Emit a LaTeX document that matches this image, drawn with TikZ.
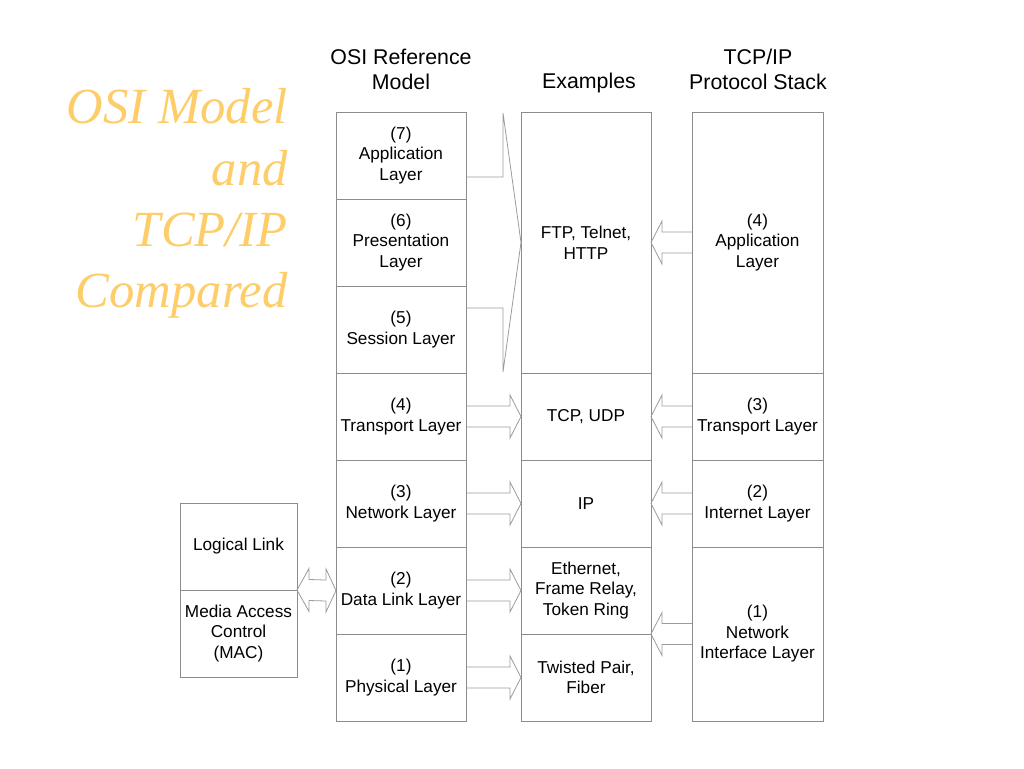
\documentclass[tikz,border=0pt]{standalone}
\usepackage{fontspec}
\setmainfont{Liberation Sans}
\newfontfamily\titlefont{Liberation Serif}
\usetikzlibrary{calc}
\definecolor{boxline}{RGB}{140,140,140}
\definecolor{arrline}{RGB}{155,155,155}
\definecolor{titlegold}{RGB}{253,205,105}
\begin{document}
\begin{tikzpicture}[x=0.75pt,y=-0.75pt,
  lay/.style={draw=boxline,line width=0.6pt,fill=white,inner sep=0pt,outer sep=0pt,
    align=center,font=\fontsize{12.9pt}{15.4pt}\selectfont},
  osicol/.style={lay,minimum width=97.5pt,minimum height=65.25pt},
  excol/.style={lay,minimum width=97.5pt},
  tcpcol/.style={lay,minimum width=98.25pt},
  leftcol/.style={lay,minimum width=87.75pt,minimum height=65.25pt},
  hdr/.style={align=center,inner sep=0pt,font=\fontsize{16pt}{19pt}\selectfont},
  ttl/.style={anchor=base east,inner sep=0pt,text=titlegold,
    font=\titlefont\itshape\fontsize{38pt}{46pt}\selectfont},
  blk/.style={to path={
    ($(\tikztostart)+(0,-10.5)$) -- ($(\tikztotarget)+(#1,-10.5)$)
    -- ($(\tikztotarget)+(#1,-21.5)$) -- (\tikztotarget)
    -- ($(\tikztotarget)+(#1,21.5)$) -- ($(\tikztotarget)+(#1,10.5)$)
    -- ($(\tikztostart)+(0,10.5)$)}},
  brk/.style={draw=arrline,line width=0.6pt}
]
\useasboundingbox (0,0) rectangle (1024,768);

% title
\node[ttl] (t1) at (288,123) {OSI Model};
\node[ttl] (t2) at (288,185) {and};
\node[ttl] (t3) at (288,246) {TCP/IP};
\node[ttl] (t4) at (288,307) {Compared};

% headers
\node[hdr] (h1) at (401,69.5) {OSI Reference\\Model};
\node[hdr] (h2) at (589,83) {Examples};
\node[hdr] (h3) at (758,69.5) {TCP/IP\\Protocol Stack};

% OSI column
\node[osicol] (osi7) at (401,155.5) {(7)\\Application\\Layer};
\node[osicol] (osi6) at (401,242.5) {(6)\\Presentation\\Layer};
\node[osicol] (osi5) at (401,329.5) {(5)\\Session Layer};
\node[osicol] (osi4) at (401,416.5) {(4)\\Transport Layer};
\node[osicol] (osi3) at (401,503.5) {(3)\\Network Layer};
\node[osicol] (osi2) at (401,590.5) {(2)\\Data Link Layer};
\node[osicol] (osi1) at (401,677.5) {(1)\\Physical Layer};

% Examples column
\node[excol,minimum height=195.75pt] (ex7) at (586,242.5) {FTP, Telnet,\\HTTP};
\node[excol,minimum height=65.25pt] (ex4) at (586,416.5) {TCP, UDP};
\node[excol,minimum height=65.25pt] (ex3) at (586,503.5) {IP};
\node[excol,minimum height=65.25pt] (ex2) at (586,590.5) {Ethernet,\\Frame Relay,\\Token Ring};
\node[excol,minimum height=65.25pt] (ex1) at (586,677.5) {Twisted Pair,\\Fiber};

% TCP/IP column
\node[tcpcol,minimum height=195.75pt] (tcp4) at (757.5,242.5) {(4)\\Application\\Layer};
\node[tcpcol,minimum height=65.25pt] (tcp3) at (757.5,416.5) {(3)\\Transport Layer};
\node[tcpcol,minimum height=65.25pt] (tcp2) at (757.5,503.5) {(2)\\Internet Layer};
\node[tcpcol,minimum height=130.5pt] (tcp1) at (757.5,634) {(1)\\Network\\Interface Layer};

% left column
\node[leftcol] (ll) at (238.5,546.5) {Logical Link};
\node[leftcol] (mac) at (238.5,633.5) {Media Access\\Control\\(MAC)};

% bracket arrow for layers 7-5
\coordinate (b1) at ($(osi7.east)+(0,21.5)$);
\coordinate (b2) at ($(osi5.east)+(0,-21.5)$);
\draw[brk] (b1) -- (503,177) -- (503,113) -- (ex7.west) -- (503,372) -- (503,308) -- (b2);

% right-pointing arrows
\draw[brk] (osi4.east) to[blk=-11] (ex4.west);
\draw[brk] (osi3.east) to[blk=-11] (ex3.west);
\draw[brk] (osi2.east) to[blk=-11] (ex2.west);
\draw[brk] (osi1.east) to[blk=-11] (ex1.west);

% left-pointing arrows
\draw[brk] (tcp4.west) to[blk=11] (ex7.east);
\draw[brk] (tcp3.west) to[blk=11] (ex4.east);
\draw[brk] (tcp2.west) to[blk=11] (ex3.east);
\draw[brk] (tcp1.west) to[blk=11] (ex1.north east);

% double arrow between MAC/LLC and Data Link
\coordinate (dl) at (ll.south east);
\draw[brk] (dl) -- ($(dl)+(12,-21.5)$) -- ($(dl)+(12,-10.5)$) -- ($(osi2.west)+(-10,-10.5)$)
  -- ($(osi2.west)+(-10,-21.5)$) -- (osi2.west) -- ($(osi2.west)+(-10,21.5)$)
  -- ($(osi2.west)+(-10,10.5)$) -- ($(dl)+(12,10.5)$) -- ($(dl)+(12,21.5)$) -- cycle;
\end{tikzpicture}
\end{document}
